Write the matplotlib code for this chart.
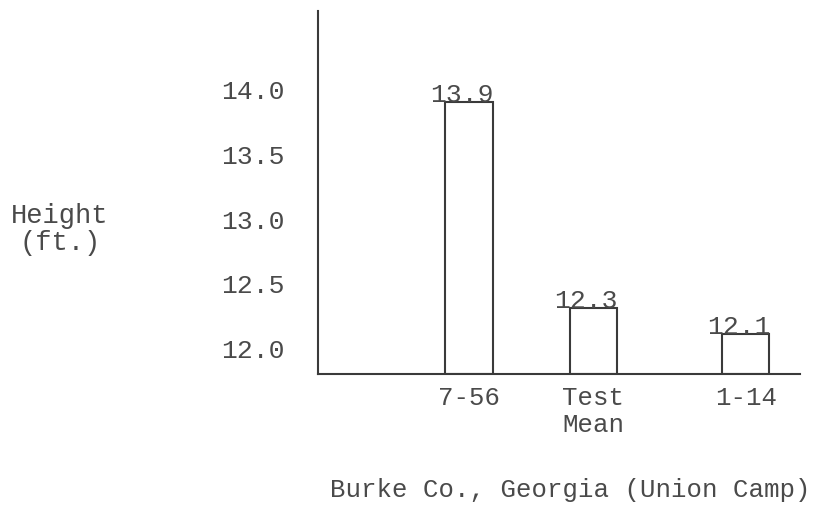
import matplotlib.pyplot as plt

# Datos
categorias = ['7-56', 'Test\nMean', '1-14']
alturas = [13.9, 12.3, 12.1]
etiquetas = ['13.9', '12.3', '12.1']
ticks_y = [12.0, 12.5, 13.0, 13.5, 14.0]
x_pos = [1.0, 2.0, 3.23]

plt.rcParams['font.family'] = ['Liberation Mono', 'DejaVu Sans Mono']
tinta = '#3a3a3a'
letra = '#4a4a4a'

fig = plt.figure(figsize=(8.32, 5.10), dpi=100)
ax = fig.add_axes([0.382, 0.265, 0.580, 0.711])

ax.bar(x_pos, [h - 11.794 for h in alturas], bottom=11.794, width=0.38,
       facecolor='white', edgecolor=tinta, linewidth=1.5)

for x, h, t in zip(x_pos, alturas, etiquetas):
    ax.text(x - 0.06, h - 0.03, t, ha='center', va='bottom',
            fontsize=19, color=letra)

ax.set_xlim(-0.218, 3.669)
ax.set_ylim(11.794, 14.6)

ax.set_yticks(ticks_y)
ax.set_yticklabels([f'{v:.1f}' for v in ticks_y])
ax.set_xticks(x_pos)
ax.set_xticklabels(categorias, linespacing=1.15)
ax.tick_params(axis='y', length=0, pad=24, labelsize=19, labelcolor=letra)
ax.tick_params(axis='x', length=0, pad=8, labelsize=18.5, labelcolor=letra)

for s in ['top', 'right']:
    ax.spines[s].set_visible(False)
for s in ['left', 'bottom']:
    ax.spines[s].set_linewidth(1.5)
    ax.spines[s].set_color(tinta)

fig.text(60 / 832, 1 - 230 / 510, 'Height\n(ft.)', ha='center', va='center',
         fontsize=19.5, color=letra, linespacing=1.05)
fig.text(570 / 832, 1 - 490 / 510, 'Burke Co., Georgia (Union Camp)',
         ha='center', va='center', fontsize=18.5, color=letra)

fig.savefig('out.png', dpi=100, facecolor='white')
